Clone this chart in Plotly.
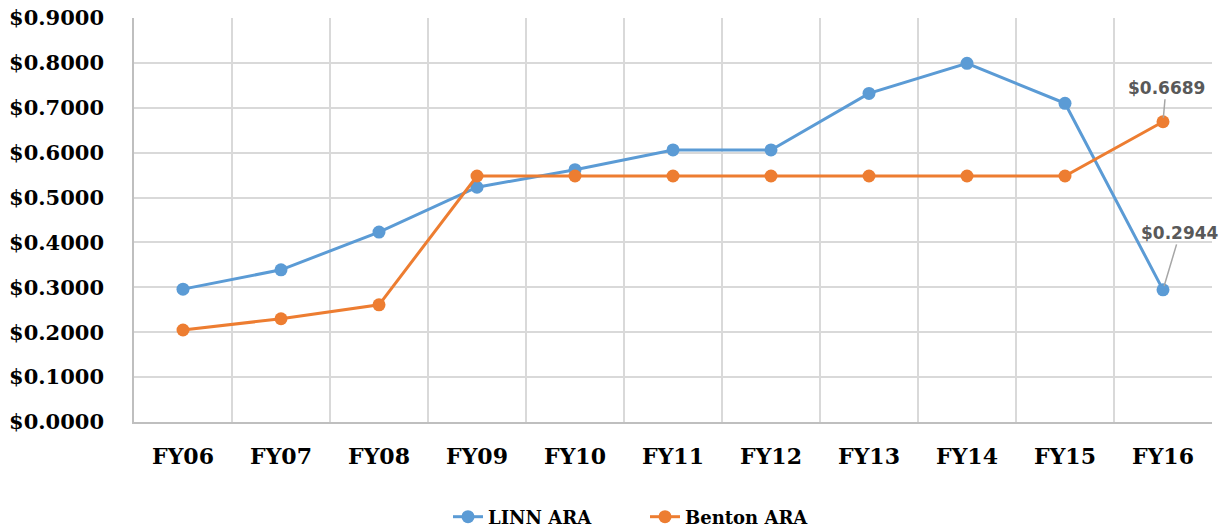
import plotly.graph_objects as go

categories = ["FY06", "FY07", "FY08", "FY09", "FY10", "FY11", "FY12", "FY13", "FY14", "FY15", "FY16"]
linn_ara = [0.2960, 0.3390, 0.4230, 0.5230, 0.5620, 0.6060, 0.6060, 0.7320, 0.7990, 0.7100, 0.2944]
benton_ara = [0.2050, 0.2300, 0.2610, 0.5480, 0.5480, 0.5480, 0.5480, 0.5480, 0.5480, 0.5480, 0.6689]
y_ticks = [0.0, 0.1, 0.2, 0.3, 0.4, 0.5, 0.6, 0.7, 0.8, 0.9]

BLUE = "#5b9bd5"
ORANGE = "#ed7d31"
SERIF = "DejaVu Serif"
W, H = 1227, 531

fig = go.Figure()
fig.add_trace(go.Scatter(x=categories, y=linn_ara, name="<b>LINN ARA</b>", mode="lines+markers",
                         line=dict(color=BLUE, width=3), marker=dict(color=BLUE, size=13),
                         legend="legend"))
fig.add_trace(go.Scatter(x=categories, y=benton_ara, name="<b>Benton ARA</b>", mode="lines+markers",
                         line=dict(color=ORANGE, width=3), marker=dict(color=ORANGE, size=13),
                         legend="legend2"))

lbl_font = dict(family="DejaVu Sans", size=17, color="#595959")
fig.add_annotation(x=categories[-1], y=benton_ara[-1], text="<b>$%.4f</b>" % benton_ara[-1],
                   showarrow=True, arrowhead=0, arrowwidth=1.5, arrowcolor="#a6a6a6",
                   ax=3, ay=-34, standoff=4, font=lbl_font)
fig.add_annotation(x=categories[-1], y=linn_ara[-1], text="<b>$%.4f</b>" % linn_ara[-1],
                   showarrow=True, arrowhead=0, arrowwidth=1.5, arrowcolor="#a6a6a6",
                   ax=17, ay=-57, standoff=4, font=lbl_font)

leg_common = dict(orientation="h", xanchor="left", xref="container",
                  yanchor="middle", yref="container", y=(H - 517) / H,
                  font=dict(family=SERIF, size=18, color="#000000"), bgcolor="rgba(0,0,0,0)")

fig.update_layout(
    width=W, height=H,
    margin=dict(l=134, r=15, t=18, b=109, autoexpand=False),
    plot_bgcolor="white", paper_bgcolor="white",
    showlegend=True,
    legend=dict(x=448 / W, **leg_common),
    legend2=dict(x=645 / W, **leg_common),
    xaxis=dict(type="category", tickson="boundaries", showgrid=True, gridcolor="#d9d9d9", gridwidth=1.5,
               showline=True, linecolor="#bfbfbf", linewidth=1.5, ticks="", range=[-0.5, 10.5],
               tickfont=dict(family=SERIF, size=22, color="#000000"),
               tickprefix="<b>", ticksuffix="</b>", ticklabelstandoff=14, automargin=False),
    yaxis=dict(range=[0, 0.9], tickvals=y_ticks, ticktext=["<b>$%.4f</b>" % v for v in y_ticks],
               showgrid=True, gridcolor="#d9d9d9", gridwidth=1.5, zeroline=False,
               showline=True, linecolor="#bfbfbf", linewidth=1.5, ticks="",
               tickfont=dict(family=SERIF, size=21, color="#000000"), ticklabelstandoff=24,
               ticklabeloverflow="allow", automargin=False),
)

fig.write_html("out.html", config={"displayModeBar": False},
               post_script="document.body.style.margin='0';document.body.style.overflow='hidden';")
